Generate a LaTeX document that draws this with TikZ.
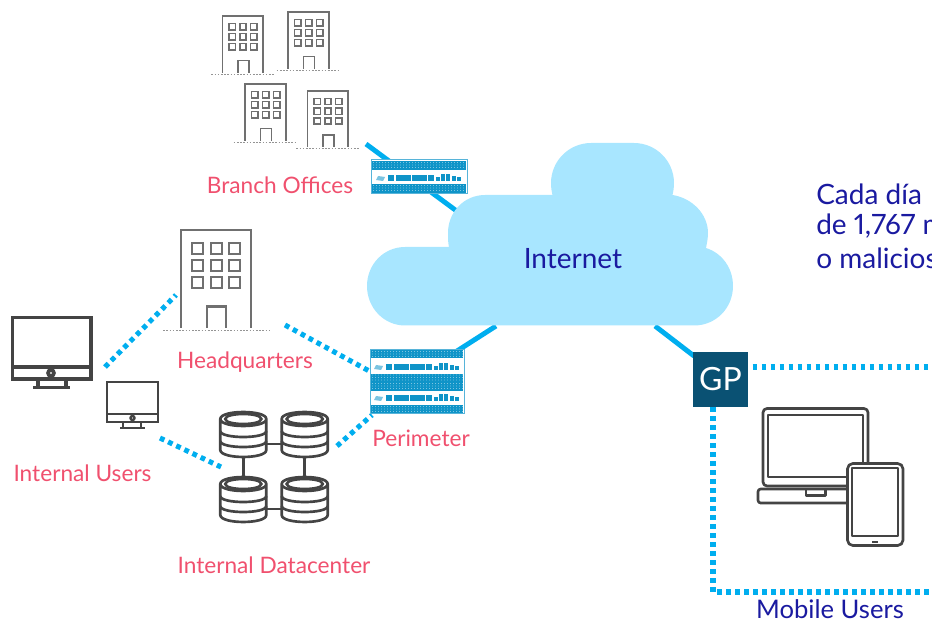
\documentclass[tikz,border=0pt]{standalone}
\usepackage{fontspec}
\setmainfont{Lato}[Numbers=Proportional]
\definecolor{cloudc}{HTML}{A8E6FF}
\definecolor{linkc}{HTML}{00AEEF}
\definecolor{redc}{HTML}{F0506E}
\definecolor{navyc}{HTML}{1A1AA0}
\definecolor{gpc}{HTML}{0A5173}
\definecolor{icong}{HTML}{707070}
\definecolor{iconk}{HTML}{444444}
\definecolor{fwc}{HTML}{0F94C8}
\newcommand{\bldg}[7]{% x y w h groundL groundR strokewidth
\begin{scope}[shift={(#1,#2)},x=#3*0.75pt/40,y=-#4*0.75pt/57]
\draw[icong,line width=#7,line join=miter] (0,57)--(0,0)--(40,0)--(40,57);
\foreach \c in {0,1,2}\foreach \r in {0,1,2}
 \draw[icong,line width=#7] (6.5+\c*10.6,7.5+\r*10) rectangle ++(6.4,6.4);
\draw[icong,line width=#7] (15,57)--(15,44.5)--(26,44.5)--(26,57);
\draw[icong!75,line width=1pt,dash pattern=on 1.2pt off 1.2pt] (#5,58.5)--(#6,58.5);
\end{scope}}
\newcommand{\fwband}[4]{% x1 y1 x2 y2
\fill[fwc] (#1,#2) rectangle (#3,#4);
\foreach \yd in {#2+1.5,#2+4,#2+6.5}{
 \foreach \xd in {0,3,...,90}
  \fill[white,opacity=.7] ({#1+1.5+\xd},{\yd}) circle (0.45);}
}
\newcommand{\fwbars}[2]{% left x, centre y of bar row
\begin{scope}[shift={(#1,#2)}]
\fill[fwc!55] (1,2)--(3,-2)--(10,-1)--(8,3)--cycle;
\fill[fwc] (13,-3) rectangle (19,3);
\fill[fwc] (21,-3) rectangle (36,3);
\fill[fwc] (37,-3) rectangle (52,3);
\fill[fwc] (53,-3) rectangle (59,3);
\fill[fwc] (60.5,-1) rectangle (64.5,3);
\fill[fwc] (66,-4) rectangle (70,3);
\fill[fwc] (71,-4) rectangle (75,3);
\fill[fwc] (76.5,-2) rectangle (80.5,3);
\fill[fwc] (82,-1) rectangle (86,3);
\end{scope}}
\newcommand{\dbicon}[2]{% centre x, link y
\begin{scope}[shift={(#1,#2)},iconk,line width=2pt]
\draw[fill=white] (-23,-25)--(-23,6) .. controls (-23,15.3) and (23,15.3) .. (23,6) -- (23,-25)
  .. controls (23,-34.3) and (-23,-34.3) .. (-23,-25) .. controls (-23,-15.7) and (23,-15.7) .. (23,-25);
\draw (-18,-25) .. controls (-18,-31.7) and (18,-31.7) .. (18,-25) .. controls (18,-18.3) and (-18,-18.3) .. (-18,-25) -- cycle;
\draw (-23,-13) .. controls (-23,-5) and (23,-5) .. (23,-13);
\draw (-23,-3) .. controls (-23,5) and (23,5) .. (23,-3);
\end{scope}}
\tikzset{
 solidlink/.style={linkc,line width=3.7pt},
 dotlink/.style={linkc,line width=3.8pt,dash pattern=on 3.6pt off 3.15pt},
 redlab/.style={text=redc,font=\fontsize{17}{20}\selectfont,inner sep=0pt},
 navylab/.style={text=navyc,font=\fontsize{21}{24}\selectfont,inner sep=0pt},
 hidden/.style={inner sep=0pt,minimum size=1pt},
 x=0.75pt,y=-0.75pt
}
\begin{document}
\begin{tikzpicture}
\useasboundingbox (0,0) rectangle (932,620);
\clip (0,0) rectangle (932,620);
% coordinates
\coordinate (bo1) at (366,144); \coordinate (bo2) at (458,212);
\coordinate (pe1) at (457,351); \coordinate (pe2) at (496,326);
\coordinate (gp1) at (655,326); \coordinate (gp2) at (694,356);
\coordinate (u1) at (105,367); \coordinate (u2) at (176,295);
\coordinate (h1) at (285,325); \coordinate (h2) at (371,372);
\coordinate (d1) at (337,446); \coordinate (d2) at (372,415);
\coordinate (i1) at (160,438); \coordinate (i2) at (221,467);
\coordinate (g1) at (752.5,367); \coordinate (g2) at (932,367);
\coordinate (g3) at (713,407); \coordinate (g4) at (713,592); \coordinate (g5) at (932,592);
% links
\draw[solidlink] (bo1)--(bo2);
\draw[solidlink] (pe1)--(pe2);
\draw[solidlink] (gp1)--(gp2);
\draw[dotlink] (u1)--(u2);
\draw[dotlink] (h1)--(h2);
\draw[dotlink] (d1)--(d2);
\draw[dotlink] (i1)--(i2);
\draw[dotlink] (g1)--(g2);
\draw[dotlink] (g3)--(g4)--(g5);
% cloud
\fill[cloudc] (405,325.5) .. controls (384,325.5) and (367,308) .. (367,286)
 .. controls (367,264) and (384,247) .. (405,247) -- (449,247)
 .. controls (448,243) and (448,238) .. (448,233)
 .. controls (448,212) and (464,195) .. (485,195) -- (552.5,195)
 .. controls (551.5,191) and (551,187) .. (551,183)
 .. controls (551,161) and (569,143) .. (591,143) -- (634,143)
 .. controls (656,143) and (674,161) .. (674,183)
 .. controls (674,187) and (673.5,191) .. (672.5,195)
 .. controls (692,198) and (708,214) .. (708,233)
 .. controls (708,238) and (707,243) .. (706,248)
 .. controls (722,253) and (733,268) .. (733,286)
 .. controls (733,308) and (716,325.5) .. (694,325.5) -- cycle;
\node[text=navyc,font=\fontsize{21}{24}\selectfont,inner sep=0pt] (inet) at (573,259) {Internet};
% buildings
\bldg{222.5}{16}{40.5}{57}{-11}{51}{1.25pt}
\bldg{288}{12}{41}{57}{-11}{51}{1.25pt}
\bldg{245}{84}{41}{57}{-11}{51}{1.25pt}
\bldg{307.5}{91}{40.5}{56}{-11}{51}{1.25pt}
\bldg{180.7}{230}{70}{98}{-10}{51}{1.6pt}
% firewalls
\node[draw=fwc!70,line width=.75pt,fill=white,minimum width=72pt,minimum height=25pt,inner sep=0pt] (fw1) at (419,176.5) {};
\fwband{372}{161}{466}{170}
\fwband{372}{184}{466}{193}
\fwbars{375}{178}
\node[draw=fwc!70,line width=.75pt,fill=white,minimum width=70.5pt,minimum height=48.5pt,inner sep=0pt] (fw2) at (417,381.5) {};
\fwband{371}{350}{463}{358}
\fwband{371}{373.5}{463}{382}
\fwband{371}{382}{463}{390.5}
\fwband{371}{405}{463}{413}
\fwbars{373}{367}
\fwbars{373}{398}
% labels
\node[redlab] (lb) at (280,185) {Branch Offices};
\node[redlab] (lh) at (245,362) {Headquarters};
\node[redlab] (lp) at (421,438) {Perimeter};
\node[redlab] (lu) at (82.5,473) {Internal Users};
\node[redlab] (ld) at (274,565) {Internal Datacenter};
% monitors
\begin{scope}[iconk,line width=2.7pt]
\draw (12.5,317.5) rectangle (91,379);
\draw (12.5,367) -- (91,367);
\draw (51,373) circle (3);
\draw (38,380)--(38,387) (66,380)--(66,387);
\draw (33,387.5)--(70,387.5);
\end{scope}
\begin{scope}[iconk,line width=1.8pt]
\draw (107,382) rectangle (158,422);
\draw (107,414)--(158,414);
\draw (132.5,418) circle (2);
\draw (123,423)--(123,427) (141,423)--(141,427);
\draw (120,428)--(145,428);
\end{scope}
% datacenter
\node[hidden] (db1) at (243.3,444) {};
\node[hidden] (db2) at (304.7,444) {};
\node[hidden] (db3) at (243.3,509) {};
\node[hidden] (db4) at (304.7,509) {};
\draw[iconk,line width=2pt] (db1)--(db2) (db1)--(db3) (db2)--(db4) (db3)--(db4);
\dbicon{243.3}{444}
\dbicon{304.7}{444}
\dbicon{243.3}{509}
\dbicon{304.7}{509}
% GP
\node[fill=gpc,text=white,minimum width=41.25pt,minimum height=41.25pt,inner sep=0pt,font=\fontsize{24}{28}\selectfont] (gp) at (720.5,379.5) {GP};
% laptop + tablet
\begin{scope}[iconk,line width=2pt,line join=round]
\draw[rounded corners=3pt] (847,486)--(763,486)--(763,408.5)--(868,408.5)--(868,463);
\draw (768,415) rectangle (863,477);
\draw[rounded corners=2pt] (847,489)--(758,489)--(758,503)--(847,503);
\draw (806,489)--(806,495.5)--(825.5,495.5)--(825.5,489);
\draw[fill=white,rounded corners=4pt] (847.5,463.5) rectangle (903,545.5);
\draw (852,468) rectangle (898,536);
\fill (872,540.5) rectangle (878,543);
\end{scope}
% navy text
\node[navylab,anchor=west] (c1) at (816,194) {Cada día};
\node[navylab,anchor=west] (c2) at (816,226) {de 1,767 m};
\node[navylab,anchor=west] (c3) at (816,258) {o malicios};
\node[text=navyc,font=\fontsize{19.2}{22}\selectfont,inner sep=0pt] (mu) at (830,609) {Mobile Users};
\end{tikzpicture}
\end{document}
